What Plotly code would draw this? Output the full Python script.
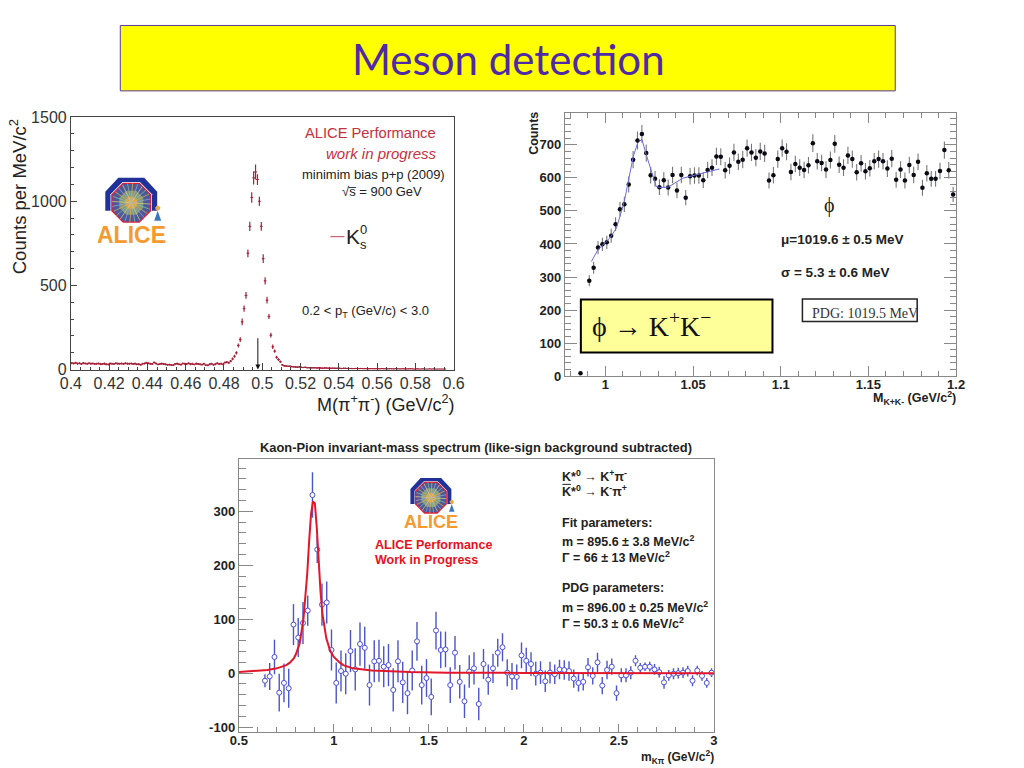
import math
import plotly.graph_objects as go

# ---------- Panel 1: K0s ----------
k0_mass = [
0.4005,0.4015,0.4025,0.4035,0.4045,0.4055,0.4065,0.4075,0.4085,0.4095,
0.4105,0.4115,0.4125,0.4135,0.4145,0.4155,0.4165,0.4175,0.4185,0.4195,
0.4205,0.4215,0.4225,0.4235,0.4245,0.4255,0.4265,0.4275,0.4285,0.4295,
0.4305,0.4315,0.4325,0.4335,0.4345,0.4355,0.4365,0.4375,0.4385,0.4395,
0.4405,0.4415,0.4425,0.4435,0.4445,0.4455,0.4465,0.4475,0.4485,0.4495,
0.4505,0.4515,0.4525,0.4535,0.4545,0.4555,0.4565,0.4575,0.4585,0.4595,
0.4605,0.4615,0.4625,0.4635,0.4645,0.4655,0.4665,0.4675,0.4685,0.4695,
0.4705,0.4715,0.4725,0.4735,0.4745,0.4755,0.4765,0.4775,0.4785,0.4795,
0.4805,0.4815,0.4825,0.4835,0.4845,0.4855,0.4865,0.4875,0.4885,0.4895,
0.4905,0.4915,0.4925,0.4935,0.4945,0.4955,0.4965,0.4975,0.4985,0.4995,
0.5005,0.5015,0.5025,0.5035,0.5045,0.5055,0.5065,0.5075,0.5085,0.5095,
0.5105,0.5115,0.5125,0.5135,0.5145,0.5155,0.5165,0.5175,0.5185,0.5195,
0.5205,0.5215,0.5225,0.5235,0.5245,0.5255,0.5265,0.5275,0.5285,0.5295,
0.5305,0.5315,0.5325,0.5335,0.5345,0.5355,0.5365,0.5375,0.5385,0.5395,
0.5405,0.5415,0.5425,0.5435,0.5445,0.5455,0.5465,0.5475,0.5485,0.5495,
0.5505,0.5515,0.5525,0.5535,0.5545,0.5555,0.5565,0.5575,0.5585,0.5595,
0.5605,0.5615,0.5625,0.5635,0.5645,0.5655,0.5665,0.5675,0.5685,0.5695,
0.5705,0.5715,0.5725,0.5735,0.5745,0.5755,0.5765,0.5775,0.5785,0.5795,
0.5805,0.5815,0.5825,0.5835,0.5845,0.5855,0.5865,0.5875,0.5885,0.5895,
0.5905,0.5915,0.5925,0.5935,0.5945,0.5955]
k0_counts = [
38,36,40,35,37,33,38,36,34,37,
35,36,33,34,36,32,33,35,31,30,
36,34,33,37,35,34,36,33,37,35,
34,36,33,35,31,32,28,34,36,40,
37,34,33,42,36,30,33,35,33,31,
28,29,27,26,33,35,31,29,36,34,
33,37,32,34,30,35,33,31,29,34,
26,25,31,34,28,32,37,33,35,30,
41,44,40,50,63,79,99,143,178,283,
362,440,691,851,1022,1139,1174,1129,1000,851,
659,527,412,315,204,135,109,73,59,46,
28,22,21,19,20,17,16,15,14,16,
13,12,13,11,11,10,10,11,9,10,
9,8,9,9,8,7,8,8,7,7,
7,6,7,7,6,6,6,5,6,6,
5,6,5,5,5,4,5,5,4,5,
4,4,5,4,4,3,4,4,3,4,
4,3,3,4,3,3,3,4,3,2,
3,3,2,3,3,2,2,3,2,3,
2,2,2,2,2,2]
k0_err = [
6,6,6,6,6,6,6,6,6,6,
6,6,6,6,6,6,6,6,6,6,
6,6,6,6,6,6,6,6,6,6,
6,6,6,6,6,6,5,6,6,6,
6,6,6,6,6,5,6,6,6,6,
5,5,5,5,6,6,6,5,6,6,
6,6,6,6,5,6,6,6,5,6,
5,5,6,6,5,6,6,6,6,5,
6,7,6,7,8,9,10,12,14,20,
19,20,23,27,31,40,44,32,27,26,
26,22,20,15,14,13,10,9,8,7,
5,5,5,4,4,4,4,4,4,4,
4,3,4,3,3,3,3,3,3,3,
3,3,3,3,3,3,3,3,3,3,
3,2,3,3,2,2,2,2,2,2,
2,2,2,2,2,2,2,2,2,2,
2,2,2,2,2,2,2,2,2,2,
2,2,2,2,2,2,2,2,2,1,
2,2,1,2,2,1,1,2,1,2,
1,1,1,1,1,1]
k0_xticks = [0.4,0.42,0.44,0.46,0.48,0.5,0.52,0.54,0.56,0.58,0.6]
k0_xlabels = ["0.4","0.42","0.44","0.46","0.48","0.5","0.52","0.54","0.56","0.58","0.6"]
k0_yticks = [0,500,1000,1500]
k0_ylabels = ["0","500","1000","1500"]

# ---------- Panel 2: phi ----------
phi_mass = [
0.9858,
0.9908,0.9933,0.9958,0.9983,1.0008,1.0033,1.0058,1.0083,1.0108,1.0133,
1.0158,1.0183,1.0208,1.0233,1.0258,1.0283,1.0308,1.0333,1.0358,1.0383,
1.0408,1.0433,1.0458,1.0483,1.0508,1.0533,1.0558,1.0583,1.0608,1.0633,
1.0658,1.0683,1.0708,1.0733,1.0758,1.0783,1.0808,1.0833,1.0858,1.0883,
1.0908,1.0933,1.0958,1.0983,1.1008,1.1033,1.1058,1.1083,1.1108,1.1133,
1.1158,1.1183,1.1208,1.1233,1.1258,1.1283,1.1308,1.1333,1.1358,1.1383,
1.1408,1.1433,1.1458,1.1483,1.1508,1.1533,1.1558,1.1583,1.1608,1.1633,
1.1658,1.1683,1.1708,1.1733,1.1758,1.1783,1.1808,1.1833,1.1858,1.1883,
1.1908,1.1933,1.1958,1.1983]
phi_counts = [
9,
289,328,389,399,405,425,460,505,520,580,
655,713,733,675,608,597,572,593,571,609,
562,609,540,605,607,607,593,624,631,665,
664,623,637,677,649,655,690,677,661,680,
674,592,608,657,690,679,618,642,631,624,
638,705,650,645,625,654,703,640,631,668,
657,617,644,620,629,650,657,650,628,658,
594,625,592,639,609,649,570,614,597,597,
621,684,623,550]
phi_err = [
1,
17,18,20,20,20,21,21,22,23,24,
26,27,27,26,25,24,24,24,24,25,
24,25,23,25,25,25,24,25,25,26,
26,25,25,26,25,26,26,26,26,26,
26,24,25,26,26,26,25,25,25,25,
25,27,25,25,25,26,27,25,25,26,
26,25,25,25,25,25,26,25,25,26,
24,25,24,25,25,25,24,25,24,24,
25,26,25,23]
phi_fit_mass = [0.9920,0.9958,1.0025,1.0063,1.0091,1.0110,1.0134,1.0159,1.0184,1.0208,
                1.0233,1.0261,1.0290,1.0309,1.0358,1.0441,1.0536,1.0650]
phi_fit_counts = [347,383,418,448,498,534,599,665,705,717,670,619,574,571,572,599,612,627]
phi_xticks = [1,1.05,1.1,1.15,1.2]
phi_xlabels = ["1","1.05","1.1","1.15","1.2"]
phi_yticks = [0,100,200,300,400,500,600,700]
phi_ylabels = ["0","100","200","300","400","500","600","700"]

# ---------- Panel 3: K*0 ----------
kst_mass = [
0.6375,0.6625,0.6875,0.7125,0.7375,0.7625,0.7875,0.8125,0.8375,0.8625,
0.8875,0.9125,0.9375,0.9625,0.9875,1.0125,1.0375,1.0625,1.0875,1.1125,
1.1375,1.1625,1.1875,1.2125,1.2375,1.2625,1.2875,1.3125,1.3375,1.3625,
1.3875,1.4125,1.4375,1.4625,1.4875,1.5125,1.5375,1.5625,1.5875,1.6125,
1.6375,1.6625,1.6875,1.7125,1.7375,1.7625,1.7875,1.8125,1.8375,1.8625,
1.8875,1.9125,1.9375,1.9625,1.9875,2.0125,2.0375,2.0625,2.0875,2.1125,
2.1375,2.1625,2.1875,2.2125,2.2375,2.2625,2.2875,2.3125,2.3375,2.3625,
2.3875,2.4125,2.4375,2.4625,2.4875,2.5125,2.5375,2.5625,2.5875,2.6125,
2.6375,2.6625,2.6875,2.7125,2.7375,2.7625,2.7875,2.8125,2.8375,2.8625,
2.8875,2.9125,2.9375,2.9625,2.9875]
kst_counts = [
-14,-6,30,-36,-18,-28,90,66,93,116,
330,229,127,131,43,-18,4,-1,41,7,
54,47,-22,22,23,12,15,-31,22,-17,
-37,5,59,-22,-9,-44,79,43,44,-22,
38,-16,-52,3,9,-57,17,-12,9,38,
48,1,-6,-7,33,23,17,-1,1,-15,
1,-2,7,6,4,-10,-18,-16,11,-5,
20,-23,6,12,-37,-4,-4,1,23,10,
12,12,7,2,-17,-4,-1,0,1,4,
-14,5,-5,-18,1]
kst_err = [
12,25,32,35,36,36,38,36,39,28,
42,25,39,39,38,38,38,38,39,39,
40,39,38,39,39,38,39,40,39,38,
39,37,36,36,35,34,35,34,33,33,
31,31,31,30,30,30,28,28,27,26,
26,25,25,23,24,24,22,22,21,20,
20,18,18,18,18,17,16,16,17,16,
18,16,17,15,14,13,13,12,10,9,
8,9,10,10,12,10,10,10,10,10,
10,9,9,9,8]
kst_fit_mass = [0.5,0.6,0.65,0.7,0.73,0.75,0.77,0.79,0.8,0.82,0.84,0.86,0.87,0.88,0.89,0.9,0.91,0.92,0.93,0.94,
                0.96,0.98,1.0,1.03,1.05,1.1,1.2,1.4,1.6,2.0,3.0]
kst_fit_counts = [2,4,6,9,12,15,20,28,35,55,100,185,245,295,318,315,270,205,150,110,65,42,30,20,15,9,5,2,1,0.5,0]
kst_xticks = [0.5,1,1.5,2,2.5,3]
kst_xlabels = ["0.5","1","1.5","2","2.5","3"]
kst_yticks = [-100,0,100,200,300]
kst_ylabels = ["-100","0","100","200","300"]

W, H = 1024, 768
# the page shows the paper inset by 10 px left/right and 8 px top/bottom
def px(x): return (x - 10) / 1004
def py(y): return 1 - (y - 8) / 752

SANS = "Liberation Sans"
SERIF = "Liberation Serif"
fig = go.Figure()

# traces
fig.add_trace(go.Scatter(x=k0_mass, y=k0_counts, mode="markers", xaxis="x", yaxis="y",
    marker=dict(size=1.5, color="#a82038"),
    error_y=dict(type="data", array=k0_err, color="#a82038", thickness=1.2, width=0),
    error_x=dict(type="constant", value=0.0007, color="#a82038", thickness=1, width=0),
    showlegend=False))
fig.add_trace(go.Scatter(x=phi_mass, y=phi_counts, mode="markers", xaxis="x2", yaxis="y2",
    marker=dict(size=4.5, color="#0a0a14"),
    error_y=dict(type="data", array=phi_err, color="#777777", thickness=1.1, width=0),
    showlegend=False))
fig.add_trace(go.Scatter(x=phi_fit_mass, y=phi_fit_counts, mode="lines", xaxis="x2", yaxis="y2",
    line=dict(color="#6a6ae0", width=1), showlegend=False))
fig.add_trace(go.Scatter(x=kst_mass, y=kst_counts, mode="markers", xaxis="x3", yaxis="y3",
    marker=dict(size=5, color="white", line=dict(color="#4a50d8", width=1)),
    error_y=dict(type="data", array=kst_err, color="#4a55c8", thickness=1.4, width=0),
    showlegend=False))
fig.add_trace(go.Scatter(x=kst_fit_mass, y=kst_fit_counts, mode="lines", xaxis="x3", yaxis="y3",
    line=dict(color="#e0182a", width=2), showlegend=False))

shapes = []
ann = []

def text(x, y, s, size=12, color="#222222", bold=False, italic=False, font=SANS, anchor="left", angle=0):
    if bold: s = "<b>%s</b>" % s
    if italic: s = "<i>%s</i>" % s
    ann.append(dict(x=px(x), y=py(y), xref="paper", yref="paper", text=s, showarrow=False,
                    xanchor=anchor, yanchor="middle", textangle=angle, borderpad=0, borderwidth=0,
                    font=dict(family=font, size=size, color=color)))

def poly(pts, fill=None, line=None, lw=0, close=True):
    path = "M " + " L ".join("%.4f %.4f" % (px(a), py(b)) for a, b in pts) + (" Z" if close else "")
    shapes.append(dict(type="path", xref="paper", yref="paper", path=path,
                       fillcolor=fill if fill else "rgba(0,0,0,0)",
                       line=dict(color=line if line else "rgba(0,0,0,0)", width=lw)))

def rect(x0, y0, x1, y1, fill, line, lw):
    shapes.append(dict(type="rect", xref="paper", yref="paper", x0=px(x0), x1=px(x1),
                       y0=py(y1), y1=py(y0), fillcolor=fill, line=dict(color=line, width=lw)))

def seg(x0, y0, x1, y1, color, lw):
    shapes.append(dict(type="line", xref="paper", yref="paper", x0=px(x0), x1=px(x1),
                       y0=py(y0), y1=py(y1), line=dict(color=color, width=lw)))

def octagon(cx, cy, r):
    return [(cx + r * math.cos(math.radians(22.5 + 45 * i)), cy + r * math.sin(math.radians(22.5 + 45 * i)))
            for i in range(8)]

def logo(cx, cy, k, text_y, size):
    poly([(cx - 26 * k, cy + 8 * k), (cx - 26 * k, cy - 11 * k), (cx - 13 * k, cy - 25 * k),
          (cx + 13 * k, cy - 25 * k), (cx + 26 * k, cy - 11 * k), (cx + 26 * k, cy + 8 * k)], fill="#20329a")
    poly(octagon(cx, cy, 22.5 * k), fill="#ffffff")
    poly(octagon(cx, cy, 21 * k), fill="#4a5a9c", line="#d8203a", lw=1.4)
    poly(octagon(cx, cy, 13 * k), fill="#7f9a80")
    poly(octagon(cx, cy, 6.5 * k), fill="#e8a030")
    cols = ["#e8d080", "#90c0a0", "#f0b040", "#a0a8d8"]
    for i in range(24):
        a = math.radians(15 * i + 4)
        seg(cx, cy, cx + 19.5 * k * math.cos(a), cy + 19.5 * k * math.sin(a), cols[i % 4], 0.7)
    poly([(cx + 23 * k, cy + 18 * k), (cx + 30 * k, cy + 18 * k), (cx + 26.5 * k, cy + 8 * k)], fill="#3878c0")
    poly(octagon(cx + 26.5 * k, cy + 5.5 * k, 2.6 * k), fill="#e8a850")
    text(cx, text_y, "ALICE", size=size, color="#f59a2e", bold=True, anchor="center")

# Title banner
rect(119.5, 25.5, 896, 91, "#ffff00", "#5b3aa0", 1)
text(508, 59.5, "Meson detection", size=42, color="#4f2aa6", font="Lato", anchor="center")

# Panel 1 texts
text(305, 133.5, "ALICE Performance", size=14.7, color="#c8303e")
text(326, 154, "work in progress", size=15, color="#c8303e", italic=True)
text(302, 174.5, "minimim bias p+p (2009)", size=13, color="#222222")
text(342, 192, "\u221as\u0305 = 900 GeV", size=13, color="#222222")
text(302, 312, "0.2 &lt; p<sub>T</sub> (GeV/c) &lt; 3.0", size=13, color="#222222")
seg(330, 237, 344, 237, "#c04050", 1)
text(346, 237, "K", size=21)
text(360, 230, "0", size=13)
text(360, 245, "s", size=13)
text(17, 196.5, "Counts per MeV/c<sup>2</sup>", size=18.5, anchor="center", angle=-90)
text(453.5, 404, "M(\u03c0<sup>+</sup>\u03c0<sup>-</sup>) (GeV/c<sup>2</sup>)", size=18, anchor="right")
logo(130.5, 203, 1.0, 235.5, 23)

# Panel 2 texts
text(534, 133, "Counts", size=12.5, bold=True, anchor="center", angle=-90)
text(957, 398.5, "M<sub>K+K-</sub> (GeV/c<sup>2</sup>)", size=12.5, bold=True, anchor="right")
text(830, 206, "\u03d5", size=20, font=SERIF, anchor="center")
text(781.5, 240, "\u03bc=1019.6 \u00b1 0.5 MeV", size=13.5, bold=True)
text(781.5, 273, "\u03c3 = 5.3 \u00b1 0.6 MeV", size=13.5, bold=True)
rect(581, 300, 773, 353, "#ffff99", "#000000", 2)
text(592, 325, "\u03d5 \u2192 K<sup>+</sup>K<sup>\u2212</sup>", size=28, color="#111111", font=SERIF)
rect(803, 299.5, 918, 322, "#ffffff", "#222222", 1.5)
text(813, 314, "PDG: 1019.5 MeV", size=14, color="#333333", font=SERIF)

# Panel 3 texts
text(259, 448, "Kaon-Pion invariant-mass spectrum (like-sign background subtracted)", size=12.9, bold=True)
text(375, 545.5, "ALICE Performance", size=12.5, color="#e8101e", bold=True)
text(375, 561, "Work in Progress", size=12.5, color="#e8101e", bold=True)
text(562, 477, "K*<sup>0</sup> \u2192 K<sup>+</sup>\u03c0<sup>-</sup>", size=12.5, bold=True)
text(562, 492, "K*<sup>0</sup> \u2192 K<sup>-</sup>\u03c0<sup>+</sup>", size=12.5, bold=True)
seg(562.5, 485, 571, 485, "#222222", 1)
text(562, 524, "Fit parameters:", size=12.5, bold=True)
text(562, 542, "m = 895.6 \u00b1 3.8 MeV/c<sup>2</sup>", size=12.5, bold=True)
text(562, 558, "\u0393 = 66 \u00b1 13 MeV/c<sup>2</sup>", size=12.5, bold=True)
text(562, 589, "PDG parameters:", size=12.5, bold=True)
text(562, 608, "m = 896.00 \u00b1 0.25 MeV/c<sup>2</sup>", size=12.5, bold=True)
text(562, 624, "\u0393 = 50.3 \u00b1 0.6 MeV/c<sup>2</sup>", size=12.5, bold=True)
text(714.5, 757.5, "m<sub>K\u03c0</sub> (GeV/c<sup>2</sup>)", size=12, bold=True, anchor="right")
logo(430.7, 498.3, 0.79, 522.5, 18)

# K0s mass arrow
ann.append(dict(x=0.4977, y=0, ax=0.4977, ay=195, xref="x", yref="y", axref="x", ayref="y",
                text="", showarrow=True, arrowhead=2, arrowsize=1, arrowwidth=1, arrowcolor="#111111"))

def axis(domain, rng, anchor, vals, labels, font, color, lw, major, minor_tick0, minor_d, minor_len, mirror, standoff=0):
    return dict(domain=domain, range=rng, anchor=anchor, tickmode="array", tickvals=vals, ticktext=labels,
                ticks="inside", ticklen=major, tickcolor=color, tickwidth=1, ticklabelstandoff=standoff,
                showline=True, linecolor=color, linewidth=lw, mirror=mirror, showgrid=False, zeroline=False,
                tickfont=font, minor=dict(ticks="inside", tick0=minor_tick0, dtick=minor_d,
                                          ticklen=minor_len, tickcolor=color, tickwidth=1, showgrid=False))

f1 = dict(family=SANS, size=16, color="#333333")
f2 = dict(family=SANS, size=13, color="#222222", weight="bold")

fig.update_layout(
    width=W, height=H, autosize=False, margin=dict(l=0, r=0, t=0, b=0),
    paper_bgcolor="white", plot_bgcolor="white", showlegend=False,
    xaxis=axis([px(70), px(453.5)], [0.4, 0.6], "y", k0_xticks, k0_xlabels, f1, "#444444", 1, 7, 0.4, 0.005, 3, True, -1),
    yaxis=axis([py(370), py(117.3)], [0, 1500], "x", k0_yticks, k0_ylabels, f1, "#444444", 1, 6, 0, 100, 3, True),
    xaxis2=axis([px(565), px(957)], [0.9769, 1.2], "y2", phi_xticks, phi_xlabels, f2, "#888888", 1.2, 10, 1.0, 0.01, 5, "ticks", -4),
    yaxis2=axis([py(376.7), py(112.7)], [0, 797.6], "x2", phi_yticks, phi_ylabels, f2, "#888888", 1.2, 12, 0, 20, 6, "ticks"),
    xaxis3=axis([px(238.3), px(714.3)], [0.5, 3], "y3", kst_xticks, kst_xlabels, f2, "#888888", 1.2, 8, 0.5, 0.1, 5, True, -4),
    yaxis3=axis([py(733), py(460)], [-109, 396], "x3", kst_yticks, kst_ylabels, f2, "#888888", 1.2, 14, -100, 20, 7, True),
    shapes=shapes, annotations=ann,
)

fig.write_html("out.html", config={"responsive": False, "displayModeBar": False},
               default_width="1024px", default_height="768px",
               post_script="document.documentElement.style.overflow='hidden';document.body.style.margin='0';document.body.style.padding='0';")
